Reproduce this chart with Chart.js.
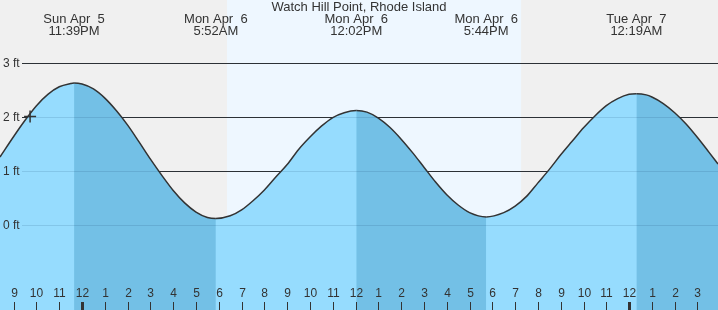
<!DOCTYPE html>
<html>
<head>
<meta charset="utf-8">
<script src="https://cdn.jsdelivr.net/npm/chart.js@4.4.1/dist/chart.umd.min.js"></script>
<style>
  body { margin: 0; background: #f0f0f0; }
  canvas { display: block; }
</style>
</head>
<body>
<canvas id="tide" width="718" height="310"></canvas>
<script>
// hours relative to midnight Mon Apr 6, heights in ft
const hours = [-3.6, -3, -2.5, -2, -1.5, -1, -0.5, -0.35, 0, 0.5, 1, 1.5, 2, 2.5, 3, 3.5, 4, 4.5, 5, 5.5, 5.87,
  6.5, 7, 7.5, 8, 8.5, 9, 9.5, 10, 10.5, 11, 11.5, 12.03, 12.5, 13, 13.5, 14, 14.5, 15, 15.5, 16, 16.5, 17, 17.73,
  18.5, 19, 19.5, 20, 20.5, 21, 21.5, 22, 22.5, 23, 23.5, 24, 24.32, 24.75, 25, 25.5, 26, 26.5, 27, 27.5, 27.9];
const heights = [1.26, 1.64, 1.94, 2.21, 2.42, 2.56, 2.62, 2.63, 2.61, 2.52, 2.35, 2.12, 1.85, 1.54, 1.22, 0.92, 0.64, 0.41, 0.24, 0.14, 0.12,
  0.17, 0.28, 0.45, 0.65, 0.89, 1.12, 1.40, 1.63, 1.83, 1.99, 2.08, 2.12, 2.09, 1.98, 1.81, 1.59, 1.34, 1.07, 0.80, 0.56, 0.37, 0.23, 0.15,
  0.23, 0.35, 0.53, 0.78, 1.03, 1.30, 1.55, 1.80, 2.02, 2.21, 2.34, 2.42, 2.43, 2.41, 2.37, 2.25, 2.08, 1.87, 1.62, 1.35, 1.13];

const eventHours = [-0.35, 5.87, 12.03, 17.73, 24.32];
const eventDays = ["Sun Apr  5", "Mon Apr  6", "Mon Apr  6", "Mon Apr  6", "Tue Apr  7"];
const eventTimes = ["11:39PM", "5:52AM", "12:02PM", "5:44PM", "12:19AM"];

const daylight = [6.36, 19.26]; // sunrise, sunset
const nowPoint = [-2.28, 2.01];

const yTicks = [0, 1, 2, 3];
const yTickLabels = ["0 ft", "1 ft", "2 ft", "3 ft"];
const firstTickHour = -3;
const hourLabels = ["9", "10", "11", "12", "1", "2", "3", "4", "5", "6", "7", "8", "9", "10", "11", "12",
  "1", "2", "3", "4", "5", "6", "7", "8", "9", "10", "11", "12", "1", "2", "3"];

const textColor = "#333";
const font = "Liberation Sans, Arial, sans-serif";
const lightWater = "#96dcfe";
const darkWater = "#73c0e6";

const decor = {
  id: "decor",
  beforeDraw(chart) {
    const { ctx, width, height, scales: { x } } = chart;
    ctx.save();
    ctx.fillStyle = "#f0f0f0";
    ctx.fillRect(0, 0, width, height);
    const x0 = x.getPixelForValue(daylight[0]);
    const x1 = x.getPixelForValue(daylight[1]);
    ctx.fillStyle = "#eef7ff";
    ctx.fillRect(x0, 0, x1 - x0, height);
    ctx.restore();
  },
  beforeDatasetsDraw(chart) {
    const { ctx, width, scales: { y } } = chart;
    ctx.save();
    ctx.strokeStyle = "#333";
    ctx.lineWidth = 1;
    yTicks.forEach(v => {
      const py = Math.round(y.getPixelForValue(v)) + 0.5;
      ctx.beginPath();
      ctx.moveTo(22, py);
      ctx.lineTo(width, py);
      ctx.stroke();
    });
    ctx.restore();
  },
  afterDatasetsDraw(chart) {
    const { ctx, width, height, scales: { x, y } } = chart;
    ctx.save();
    // faint grid lines showing through the water
    ctx.strokeStyle = "rgba(0,40,80,0.12)";
    ctx.lineWidth = 1;
    ctx.fillStyle = textColor;
    ctx.font = "12px " + font;
    ctx.textBaseline = "middle";
    yTicks.forEach((v, i) => {
      const py = Math.round(y.getPixelForValue(v)) + 0.5;
      ctx.beginPath();
      ctx.moveTo(22, py);
      ctx.lineTo(width, py);
      ctx.stroke();
      ctx.fillText(yTickLabels[i], 3, py);
    });

    // hour ticks
    ctx.textAlign = "center";
    ctx.textBaseline = "bottom";
    hourLabels.forEach((lab, i) => {
      const h = firstTickHour + i;
      const px = Math.round(x.getPixelForValue(h));
      if (h % 24 === 0) {
        ctx.fillRect(px - 1, 302, 3, height - 302);
      } else {
        ctx.fillRect(px, 302, 1, height - 302);
      }
      ctx.fillText(lab, px + 0.5, 300);
    });

    // title and tide event labels
    ctx.font = "13px " + font;
    ctx.textBaseline = "middle";
    ctx.fillText("Watch Hill Point, Rhode Island", width / 2, 7);
    eventHours.forEach((h, i) => {
      const px = x.getPixelForValue(h);
      ctx.fillText(eventDays[i], px, 19);
      ctx.fillText(eventTimes[i], px, 31);
    });
    ctx.restore();
  }
};

const tidePoints = hours.map((h, i) => ({ x: h, y: heights[i] }));

new Chart(document.getElementById("tide"), {
  type: "line",
  data: {
    datasets: [
      {
        label: "Now",
        data: [{ x: nowPoint[0], y: nowPoint[1] }],
        showLine: false,
        pointStyle: "cross",
        pointRadius: 6,
        borderColor: "#333",
        borderWidth: 1.5,
        order: 0
      },
      {
        // falling tide shading + the tide line
        label: "Tide",
        data: tidePoints,
        borderColor: "#333",
        borderWidth: 1.5,
        pointRadius: 0,
        cubicInterpolationMode: "monotone",
        fill: "start",
        backgroundColor: darkWater,
        segment: {
          backgroundColor: c => c.p1.parsed.y < c.p0.parsed.y ? darkWater : "rgba(0,0,0,0)"
        },
        order: 1
      },
      {
        label: "Water",
        data: tidePoints,
        borderWidth: 0,
        borderColor: "rgba(0,0,0,0)",
        pointRadius: 0,
        cubicInterpolationMode: "monotone",
        fill: "start",
        backgroundColor: lightWater,
        order: 2
      }
    ]
  },
  options: {
    responsive: false,
    animation: false,
    devicePixelRatio: 1,
    layout: { padding: 0, autoPadding: false },
    scales: {
      x: { type: "linear", min: -3.6, max: 27.9, display: false },
      y: { min: -1.574, max: 4.167, display: false }
    },
    plugins: {
      legend: { display: false },
      tooltip: { enabled: false }
    }
  },
  plugins: [decor]
});
</script>
</body>
</html>
